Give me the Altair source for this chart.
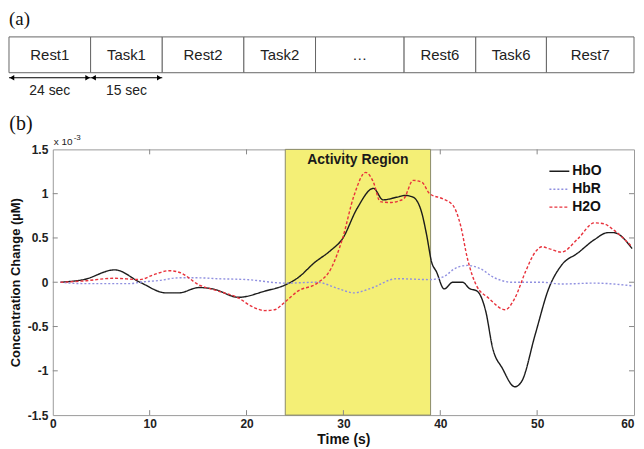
import altair as alt
import pandas as pd

# ---------------- panel (a): block design ----------------
block_labels = ["Rest1", "Task1", "Rest2", "Task2", "\u2026", "Rest6", "Task6", "Rest7"]
block_edges = [0, 82, 154, 236, 308, 397, 469, 540, 628]  # diagram units
duration_labels = ["24 sec", "15 sec"]

# ---------------- panel (b): concentration change (x 10^-3 uM) ----------------
hbo_t = [0.8, 3.2, 6.4, 9.0, 11.7, 13.0, 15.1, 16.5, 19.2, 21.9, 24.0, 25.3, 27.0, 28.7,
         29.9, 31.4, 33.1, 34.1, 35.5, 36.4, 37.2, 38.1, 38.6, 39.1, 39.6, 40.4, 41.3, 42.3,
         43.0, 43.8, 44.7, 45.4, 46.4, 47.7, 48.4, 49.8, 51.2, 52.5, 54.2, 55.9, 57.3, 57.9, 59.8]
hbo_v = [0.0, 0.03, 0.14, 0.0, -0.12, -0.12, -0.06, -0.075, -0.17, -0.10, -0.03, 0.05, 0.22,
         0.36, 0.49, 0.83, 1.06, 0.93, 0.96, 0.98, 0.96, 0.78, 0.53, 0.23, 0.12, -0.075, 0.0,
         0.0, -0.07, -0.10, -0.33, -0.74, -0.97, -1.18, -1.12, -0.59, -0.07, 0.19, 0.33, 0.48,
         0.56, 0.56, 0.38]
hbr_t = [0.8, 3.0, 6.0, 8.0, 9.0, 11.0, 13.0, 15.0, 17.0, 20.0, 24.0, 27.3, 29.4, 31.1, 32.8,
         35.5, 38.9, 40.3, 41.6, 42.8, 44.0, 45.7, 47.4, 50.5, 52.5, 55.9, 59.8]
hbr_v = [0.0, -0.015, -0.015, -0.015, 0.0, 0.02, 0.05, 0.05, 0.04, 0.03, -0.01, 0.0, -0.07,
         -0.12, -0.07, 0.04, 0.03, 0.06, 0.16, 0.19, 0.16, 0.045, 0.0, 0.0, -0.02, -0.01, -0.04]
h2o_t = [0.8, 3.2, 6.3, 9.0, 10.3, 12.0, 13.1, 15.1, 17.1, 19.2, 20.5, 21.9, 22.9, 24.0, 25.3,
         27.3, 28.7, 29.9, 31.1, 32.3, 33.1, 33.8, 34.8, 36.2, 37.2, 38.1, 38.9, 40.3, 41.3,
         42.1, 42.8, 43.7, 45.0, 46.7, 47.7, 48.8, 49.8, 50.5, 51.2, 52.5, 54.2, 55.9, 56.9,
         57.9, 59.8]
h2o_v = [0.0, 0.015, 0.045, 0.03, 0.08, 0.13, 0.11, -0.03, -0.10, -0.18, -0.27, -0.32, -0.31,
         -0.22, -0.10, -0.01, 0.15, 0.49, 0.98, 1.24, 1.13, 0.91, 0.90, 0.94, 1.15, 1.13, 1.00,
         0.94, 0.87, 0.64, 0.27, -0.03, -0.18, -0.31, -0.18, 0.12, 0.34, 0.40, 0.38, 0.34, 0.49,
         0.67, 0.66, 0.59, 0.40]
series_names = ["HbO", "HbR", "H2O"]
series_colors = ["#1c1c1c", "#9090e0", "#e8323c"]
activity = [24, 39]
x_ticks = [0, 10, 20, 30, 40, 50, 60]
y_ticks = [-1.5, -1, -0.5, 0, 0.5, 1, 1.5]

SANS = "Liberation Sans"
SERIF = "Liberation Serif"

# ================= panel (a) =================
W = 584
blocks = pd.DataFrame({"label": block_labels, "x0": block_edges[:-1], "x1": block_edges[1:]})
blocks["xm"] = (blocks["x0"] + blocks["x1"]) / 2
blocks["y0"] = 0.0
blocks["y1"] = 1.0
blocks["ym"] = 0.5

xs_top = alt.Scale(domain=[44, 628])
ay_top = alt.Scale(domain=[-0.806, 1.75])

boxes = alt.Chart(blocks).mark_rect(fill="white", stroke="#666666", strokeWidth=1).encode(
    x=alt.X("x0:Q", scale=xs_top, axis=None), x2="x1:Q",
    y=alt.Y("y0:Q", scale=ay_top, axis=None), y2="y1:Q")
box_text = alt.Chart(blocks).mark_text(font=SANS, fontSize=15, color="#222222").encode(
    x=alt.X("xm:Q", scale=xs_top, axis=None),
    y=alt.Y("ym:Q", scale=ay_top, axis=None), text="label:N")

arrows = blocks.iloc[:2].copy()
arrows["ya"] = -0.14
arrows["yt"] = -0.5
arrows["dur"] = duration_labels
arr_line = alt.Chart(arrows).mark_rule(color="black", strokeWidth=1).encode(
    x=alt.X("x0:Q", scale=xs_top, axis=None), x2="x1:Q",
    y=alt.Y("ya:Q", scale=ay_top, axis=None))
arr_left = alt.Chart(arrows).mark_point(shape="triangle-left", filled=True, color="black",
                                        size=28, opacity=1, xOffset=3).encode(
    x=alt.X("x0:Q", scale=xs_top, axis=None), y=alt.Y("ya:Q", scale=ay_top, axis=None))
arr_right = alt.Chart(arrows).mark_point(shape="triangle-right", filled=True, color="black",
                                         size=28, opacity=1, xOffset=-3).encode(
    x=alt.X("x1:Q", scale=xs_top, axis=None), y=alt.Y("ya:Q", scale=ay_top, axis=None))
arr_text = alt.Chart(arrows).mark_text(font=SANS, fontSize=14, color="#222222").encode(
    x=alt.X("xm:Q", scale=xs_top, axis=None),
    y=alt.Y("yt:Q", scale=ay_top, axis=None), text="dur:N")
label_a = alt.Chart(pd.DataFrame({"x": [0], "y": [1.486], "t": ["(a)"]})).mark_text(
    font=SERIF, fontSize=19, align="left", color="#111111").encode(
    x=alt.X("x:Q", scale=xs_top, axis=None),
    y=alt.Y("y:Q", scale=ay_top, axis=None), text="t:N")

top = alt.layer(boxes, box_text, arr_line, arr_left, arr_right, arr_text, label_a).properties(
    width=W, height=92, view=alt.ViewBackground(stroke="transparent"))

# ================= panel (b) =================
rows = []
for name, ts, vs in [("HbO", hbo_t, hbo_v), ("HbR", hbr_t, hbr_v), ("H2O", h2o_t, h2o_v)]:
    for t, v in zip(ts, vs):
        rows.append({"series": name, "t": t, "v": v})
df = pd.DataFrame(rows)

H = 267
xs = alt.Scale(domain=[0, 60], nice=False, zero=False)
ys = alt.Scale(domain=[-1.5, 1.5], nice=False, zero=False)

region = alt.Chart(pd.DataFrame({"a": [activity[0]], "b": [activity[1]],
                                 "lo": [y_ticks[0]], "hi": [y_ticks[-1]]})).mark_rect(
    fill="#f4ef76", stroke="#8a8a6a", strokeWidth=1).encode(
    x=alt.X("a:Q", scale=xs), x2="b:Q", y=alt.Y("lo:Q", scale=ys), y2="hi:Q")

region_text = alt.Chart(pd.DataFrame({"m": [(activity[0] + activity[1]) / 2], "y": [y_ticks[-1]],
                                      "t": ["Activity Region"]})).mark_text(
    font=SANS, fontSize=14, fontWeight="bold", color="#1a1a1a", baseline="middle", dy=11).encode(
    x=alt.X("m:Q", scale=xs), y=alt.Y("y:Q", scale=ys), text="t:N")

lines = alt.Chart(df).mark_line(interpolate="monotone", strokeWidth=1.4).encode(
    x=alt.X("t:Q", scale=xs,
            axis=alt.Axis(title="Time (s)", values=x_ticks, format="d", tickSize=0, domain=False,
                          grid=False, labelFlush=False, labelPadding=3, labelFont=SANS,
                          labelAlign={"condition": {"test": "datum.value >= 60", "value": "right"},
                                      "value": "center"},
                          labelFontSize=12, labelFontWeight="bold", labelColor="#222222",
                          titleFont=SANS, titleFontSize=14, titleFontWeight="bold",
                          titleColor="#111111", titlePadding=4)),
    y=alt.Y("v:Q", scale=ys,
            axis=alt.Axis(title="Concentration Change (\u00b5M)", values=y_ticks,
                          labelExpr="toString(datum.value)", tickSize=0, domain=False, grid=False,
                          labelPadding=5, labelFont=SANS, labelFontSize=12,
                          labelFontWeight="bold", labelColor="#222222", titleFont=SANS,
                          titleFontSize=13, titleFontWeight="bold", titleColor="#111111",
                          titlePadding=5)),
    color=alt.Color("series:N", scale=alt.Scale(domain=series_names, range=series_colors),
                    legend=alt.Legend(title=None, orient="none", legendX=498, legendY=11,
                                      symbolType="stroke", symbolSize=400, symbolStrokeWidth=1.4,
                                      labelFont=SANS, labelFontSize=14, labelFontWeight="bold",
                                      labelColor="#111111", labelOffset=2, rowPadding=0,
                                      padding=0)),
    strokeDash=alt.StrokeDash("series:N",
                              scale=alt.Scale(domain=series_names,
                                              range=[[1, 0], [2, 2], [3, 2]]),
                              legend=alt.Legend(title=None, orient="none", legendX=498,
                                                legendY=11)),
    order="t:Q",
)

# inward ticks (MATLAB style)
xt = pd.DataFrame({"t": x_ticks[1:-1]})
yt = pd.DataFrame({"v": y_ticks[1:-1]})
tick_c = "#888888"
tick_bottom = alt.Chart(xt).mark_rule(color=tick_c).encode(
    x=alt.X("t:Q", scale=xs), y=alt.value(H), y2=alt.value(H - 5))
tick_top = alt.Chart(xt).mark_rule(color=tick_c).encode(
    x=alt.X("t:Q", scale=xs), y=alt.value(0), y2=alt.value(5))
tick_left = alt.Chart(yt).mark_rule(color=tick_c).encode(
    y=alt.Y("v:Q", scale=ys), x=alt.value(0), x2=alt.value(5))
tick_right = alt.Chart(yt).mark_rule(color=tick_c).encode(
    y=alt.Y("v:Q", scale=ys), x=alt.value(W), x2=alt.value(W - 5))

mult = pd.DataFrame({"x": [x_ticks[0]], "y": [y_ticks[-1]]})
mult_main = alt.Chart(mult).mark_text(font=SANS, fontSize=10, align="left", baseline="alphabetic",
                                      dx=1, dy=-4, color="#222222", text="x 10").encode(
    x=alt.X("x:Q", scale=xs), y=alt.Y("y:Q", scale=ys))
mult_exp = alt.Chart(mult).mark_text(font=SANS, fontSize=8, align="left", baseline="alphabetic",
                                     dx=21, dy=-9, color="#222222", text="-3").encode(
    x=alt.X("x:Q", scale=xs), y=alt.Y("y:Q", scale=ys))

bottom = alt.layer(region, tick_bottom, tick_top, tick_left, tick_right, lines, region_text,
                   mult_main, mult_exp).properties(
    width=W, height=H, view=alt.ViewBackground(stroke="#9a9a9a"),
    title=alt.TitleParams(text="(b)", anchor="start", frame="bounds", font=SERIF, fontSize=20,
                          fontWeight="normal", color="#111111", offset=0))

chart = alt.vconcat(top, bottom, spacing=11).resolve_legend(
    color="independent", strokeDash="independent").properties(
    padding=0).configure(background="white")
chart.save("out.html", embed_options={"renderer": "svg", "actions": False})
